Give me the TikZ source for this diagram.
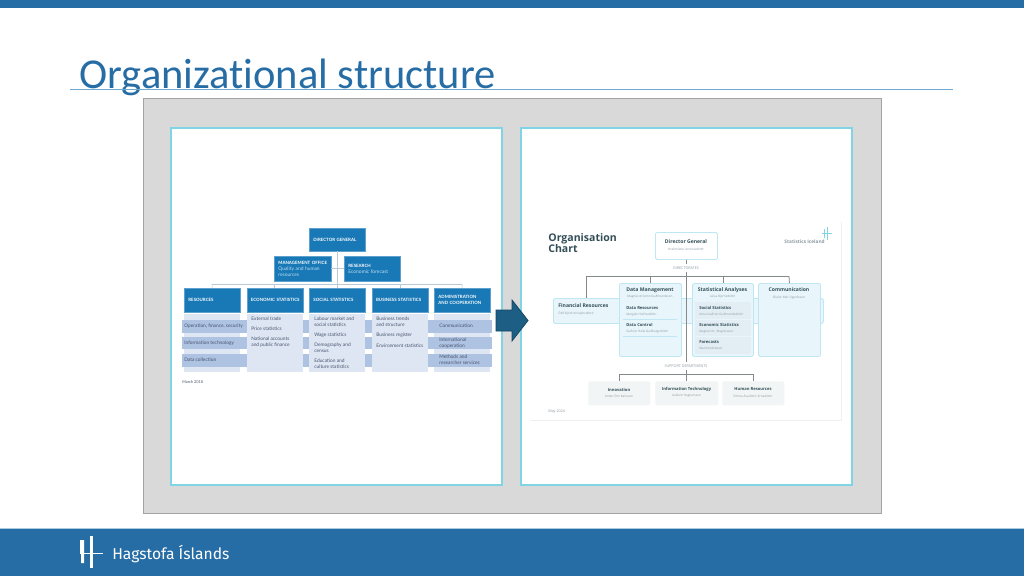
\documentclass[tikz,border=0pt]{standalone}
\usepackage{fontspec}
\setmainfont{Carlito}[Ligatures=NoCommon]
\newfontfamily\chartFont{Lato}
\newfontfamily\cardFont{Open Sans}
\newfontfamily\logoFont{Fira Sans}
\usetikzlibrary{positioning}
\newcommand{\px}{.02cm}
\definecolor{slideBlue}{RGB}{39,109,165}
\definecolor{ruleBlue}{RGB}{112,168,207}
\definecolor{panelGrey}{RGB}{217,217,217}
\definecolor{panelEdge}{RGB}{128,212,228}
\definecolor{arrowBlue}{RGB}{28,94,132}
\definecolor{headerBlue}{RGB}{25,121,183}
\definecolor{bodyBlue}{RGB}{223,230,243}
\definecolor{bandBlue}{RGB}{174,194,226}
\definecolor{paleText}{RGB}{190,222,240}
\definecolor{itemText}{RGB}{70,85,110}
\definecolor{stemColor}{RGB}{185,202,212}
\definecolor{cardFill}{RGB}{232,246,251}
\definecolor{cardEdge}{RGB}{190,231,243}
\definecolor{rowFill}{RGB}{226,238,243}
\definecolor{supportFill}{RGB}{242,245,245}
\definecolor{inkColor}{RGB}{52,78,88}
\definecolor{softInk}{RGB}{140,155,162}
\definecolor{busColor}{RGB}{130,138,140}
\tikzstyle{slide} = [x = \px, y = -\px, every node/.style={inner sep = 0pt}]
\tikzstyle{whitePanel} = [draw=panelEdge, fill=white, line width=1.4*\px]
\tikzstyle{chartBox} = [fill=headerBlue, draw=headerBlue!70!white, line width=.4*\px, text=white, align=left, inner xsep=4.2*\px, font=\chartFont\bfseries\fontsize{2.5}{3.2}\selectfont]
\tikzstyle{bodyBox} = [fill=bodyBlue]
\tikzstyle{bandBox} = [fill=bandBlue]
\tikzstyle{itemStyle} = [anchor=west, align=left, text=itemText, font=\chartFont\fontsize{2.75}{3.6}\selectfont]
\tikzstyle{stemLine} = [draw=stemColor, line width=.6*\px]
\tikzstyle{cardBox} = [fill=cardFill, draw=cardEdge, line width=.8*\px, rounded corners=1.5*\px]
\tikzstyle{rowBox} = [fill=rowFill]
\tikzstyle{supportBox} = [fill=supportFill, rounded corners=1.5*\px]
\tikzstyle{cardTitle} = [text=inkColor, font=\cardFont\fontsize{2.9}{4}\selectfont\bfseries]
\tikzstyle{rowTitle} = [anchor=west, text=inkColor, font=\cardFont\fontsize{2.35}{3}\selectfont\bfseries]
\tikzstyle{nameText} = [text=softInk, font=\cardFont\fontsize{1.75}{2.4}\selectfont]
\tikzstyle{rowName} = [anchor=west, text=softInk, font=\cardFont\fontsize{1.75}{2.4}\selectfont]
\tikzstyle{busLine} = [draw=busColor, line width=.8*\px]
\tikzstyle{capsText} = [text=softInk, font=\cardFont\fontsize{2.1}{3}\selectfont]
\newcommand{\headerBox}[6]{\node (#1) [chartBox, anchor=north west, text width=(#4-8.4)*\px, minimum height=#5*\px] at (#2,#3) {#6};}
\newcommand{\plainBox}[6]{\node (#1) [#6, anchor=north west, minimum width=#4*\px, minimum height=#5*\px] at (#2,#3) {};}
\newcommand{\stem}[2]{\path [stemLine] (#1) -- (#2);}
\begin{document}
\begin{tikzpicture}[slide]
  \useasboundingbox (0,0) rectangle (1024,576);
  % slide frame
  \fill [white] (0,0) rectangle (1024,576);
  \fill [slideBlue] (0,0) rectangle (1024,8);
  \fill [slideBlue] (0,528) rectangle (1024,576);
  \fill [ruleBlue!60] (0,527.5) rectangle (1024,528.5);
  \node (slideTitle) [anchor=base west, text=slideBlue, font=\fontsize{24.2}{28}\selectfont] at (79,88) {Organizational structure};
  \fill [ruleBlue] (70,88.5) rectangle (953,89.7);
  \fill [panelGrey, draw=panelGrey!75!black, line width=.8*\px] (143,98) rectangle (881,513);
  \filldraw [whitePanel] (171,128) rectangle (502,485);
  \filldraw [whitePanel] (521,128) rectangle (852,485);

  % left chart
  \plainBox{bodyResources}{184}{314}{56}{58}{bodyBox}
  \plainBox{bodyAdministration}{434}{314}{56}{58}{bodyBox}
  \plainBox{bandOne}{182}{320}{310}{12.5}{bandBox}
  \plainBox{bandTwo}{182}{336.5}{310}{12.5}{bandBox}
  \plainBox{bandThree}{182}{354}{310}{12.5}{bandBox}
  \plainBox{bodyEconomic}{246.5}{314}{56}{58}{bodyBox}
  \plainBox{bodySocial}{309}{314}{56}{58}{bodyBox}
  \plainBox{bodyBusiness}{371.7}{314}{56}{58}{bodyBox}
  \headerBox{director}{309}{228}{56}{23}{\mbox{DIRECTOR GENERAL}}
  \headerBox{management}{274}{256}{57}{25}{\mbox{MANAGEMENT OFFICE}\\[.5pt]{\mdseries\color{paleText}\fontsize{2.8}{3.4}\selectfont Quality and human\\resources}}
  \headerBox{research}{344}{256}{56}{25}{RESEARCH\\[.5pt]{\mdseries\color{paleText}\fontsize{2.8}{3.4}\selectfont Economic forecast}}
  \headerBox{resources}{184}{288}{56}{24}{RESOURCES}
  \headerBox{economic}{246.5}{288}{56}{24}{\mbox{ECONOMIC STATISTICS}}
  \headerBox{social}{309}{288}{56}{24}{\mbox{SOCIAL STATISTICS}}
  \headerBox{business}{371.7}{288}{56}{24}{\mbox{BUSINESS STATISTICS}}
  \headerBox{administration}{434}{288}{56}{24}{\mbox{ADMINISTRATION}\\\mbox{AND COOPERATION}}
  \coordinate (leftBus) at (212,284);
  \coordinate (rightBus) at (462,284);
  \stem{leftBus}{rightBus}
  \stem{leftBus}{resources.north}
  \stem{rightBus}{administration.north}
  \stem{economic.north |- leftBus}{economic.north}
  \stem{business.north |- leftBus}{business.north}
  \stem{director.south}{social.north}
  \stem{management.east}{research.west}
  \node (itemOperation) [itemStyle] at (184,326) {Operation, finance, security};
  \node (itemTechnology) [itemStyle] at (184,343) {Information technology};
  \node (itemCollection) [itemStyle] at (184,360) {Data collection};
  \node (itemTrade) [itemStyle] at (251,319) {External trade};
  \node (itemPrice) [itemStyle] at (251,329) {Price statistics};
  \node (itemAccounts) [itemStyle] at (251,342) {National accounts\\and public finance};
  \node (itemLabour) [itemStyle] at (314,322) {Labour market and\\social statistics};
  \node (itemWage) [itemStyle] at (314,335) {Wage statistics};
  \node (itemCensus) [itemStyle] at (314,348) {Demography and\\census};
  \node (itemCulture) [itemStyle] at (314,364) {Education and\\culture statistics};
  \node (itemTrends) [itemStyle] at (376,322) {Business trends\\and structure};
  \node (itemRegister) [itemStyle] at (376,335) {Business register};
  \node (itemEnvironment) [itemStyle] at (376,346) {Environment statistics};
  \node (itemCommunication) [itemStyle] at (439,326) {Communication};
  \node (itemInternational) [itemStyle] at (439,343) {International\\cooperation};
  \node (itemMethods) [itemStyle] at (439,360) {Methods and\\researcher services};
  \node (leftDate) [itemStyle, font=\chartFont\fontsize{2.2}{3}\selectfont] at (182,382) {March 2018};

  % arrow between the charts
  \filldraw [fill=arrowBlue, draw=arrowBlue!75!black, line width=.8*\px] (496,310) -- (512,310) -- (512,300) -- (528,320.5) -- (512,341) -- (512,331) -- (496,331) -- cycle;

  % right chart
  \draw [draw=black!6, line width=.8*\px] (841,222) -- (841,420) -- (530,420);
  \node (chartTitle) [anchor=north west, align=left, text=inkColor, font=\cardFont\bfseries\fontsize{6}{6.5}\selectfont] at (548,233) {Organisation\\Chart};
  \node (rightDate) [rowName, font=\cardFont\fontsize{2.1}{3}\selectfont] at (548,412) {May 2024};
  \node (icelandText) [anchor=east, text=softInk, font=\cardFont\bfseries\fontsize{2.7}{4}\selectfont] at (825,242) {Statistics Iceland};
  \draw [draw=panelEdge, line width=1*\px] (827,227) -- (827,240) (824,229) -- (824,238) (822,233.5) -- (832,233.5);
  \plainBox{financial}{553}{298}{270}{25}{cardBox}
  \plainBox{dataManagement}{619}{283}{62}{73}{cardBox}
  \plainBox{statistical}{692}{283}{61}{73}{cardBox}
  \plainBox{communication}{758}{283}{62}{73}{cardBox}
  \plainBox{directorGeneral}{655}{232}{62}{27}{cardBox, fill=white}
  \plainBox{socialRow}{695}{302}{56}{17}{rowBox}
  \plainBox{economicRow}{695}{319.5}{56}{16.5}{rowBox}
  \plainBox{forecastRow}{695}{336.5}{56}{17}{rowBox}
  \draw [draw=cardEdge, line width=.5*\px] (623,319) -- (677,319) (623,336) -- (677,336);
  \plainBox{innovation}{588}{381}{62}{24}{supportBox}
  \plainBox{technology}{655}{381}{63}{24}{supportBox}
  \plainBox{humanResources}{722}{381}{62}{24}{supportBox}
  \node (directorates) [capsText, inner ysep=2*\px] at (686,268) {DIRECTORATES};
  \node (support) [capsText, inner ysep=2*\px] at (686,366) {SUPPORT DEPARTMENTS};
  \coordinate (busLeft) at (586,276);
  \coordinate (busRight) at (789,276);
  \coordinate (lowerLeft) at (619,374);
  \coordinate (lowerRight) at (753,374);
  \path [busLine] (directorGeneral.south -| directorates) -- (directorates);
  \path [busLine] (directorates) -- (support);
  \path [busLine] (support) -- (technology.north -| support);
  \path [busLine] (busLeft) -- (busRight);
  \path [busLine] (busLeft) -- (busLeft |- financial.north);
  \path [busLine] (dataManagement.north |- busLeft) -- (dataManagement.north);
  \path [busLine] (statistical.north |- busLeft) -- (statistical.north);
  \path [busLine] (busRight) -- (communication.north);
  \path [busLine] (lowerLeft) -- (lowerRight);
  \path [busLine] (lowerLeft) -- (lowerLeft |- innovation.north);
  \path [busLine] (lowerRight) -- (lowerRight |- humanResources.north);
  \node (directorName) [cardTitle] at (686,242) {Director General};
  \node (directorPerson) [nameText] at (686,249) {Hrafnhildur Arnkelsdóttir};
  \node (financialName) [cardTitle, anchor=west] at (558,306) {Financial Resources};
  \node (financialPerson) [nameText, anchor=west] at (558,313) {Ólöf Björk Kristjánsdóttir};
  \node (dataName) [cardTitle] at (650,290) {Data Management};
  \node (dataPerson) [nameText] at (650,297) {Magnús Kristinn Guðmundsson};
  \node (resourcesName) [rowTitle] at (626,308) {Data Resources};
  \node (resourcesPerson) [rowName] at (626,314.5) {Margrét Hrefnudóttir};
  \node (controlName) [rowTitle] at (626,325) {Data Control};
  \node (controlPerson) [rowName] at (626,331.5) {Guðrún Halla Guðbergsdóttir};
  \node (statisticalName) [cardTitle] at (722.5,290) {Statistical Analyses};
  \node (statisticalPerson) [nameText] at (722.5,297) {Lúísa Björnsdóttir};
  \node (socialName) [rowTitle] at (699,308) {Social Statistics};
  \node (socialPerson) [rowName] at (699,314.5) {Anna Guðrún Guðmundsdóttir};
  \node (economicName) [rowTitle] at (699,325) {Economic Statistics};
  \node (economicPerson) [rowName] at (699,331.5) {Magnús Kr. Magnússon};
  \node (forecastName) [rowTitle] at (699,342) {Forecasts};
  \node (forecastPerson) [rowName] at (699,348.5) {Marinó Melsted};
  \node (communicationName) [cardTitle] at (789,290) {Communication};
  \node (communicationPerson) [nameText] at (789,297) {Ólafur Már Sigurðsson};
  \node (innovationName) [rowTitle, anchor=center] at (619,389.5) {Innovation};
  \node (innovationPerson) [nameText] at (619,396) {Anton Örn Karlsson};
  \node (technologyName) [rowTitle, anchor=center] at (686.5,389.5) {Information Technology};
  \node (technologyPerson) [nameText] at (686.5,396) {Auðunn Ragnarsson};
  \node (humanName) [rowTitle, anchor=center] at (753,389.5) {Human Resources};
  \node (humanPerson) [nameText] at (753,396) {Emma Ásudóttir Árnadóttir};

  % logo in the footer
  \fill [white] (80,540) rectangle (84,553) (81,553) rectangle (84,563);
  \fill [white] (90,536) rectangle (93,568);
  \fill [white] (80,552.5) rectangle (103,553.5);
  \node (logoText) [anchor=west, text=white, font=\logoFont\fontsize{8.9}{13}\selectfont] at (112,554) {Hagstofa Íslands};
\end{tikzpicture}
\end{document}
